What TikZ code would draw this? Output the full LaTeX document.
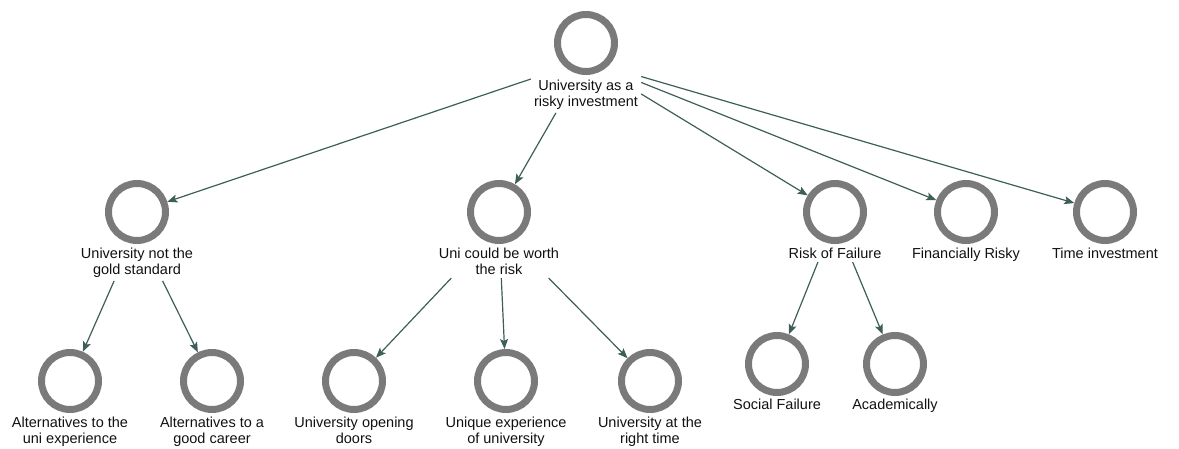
\documentclass[tikz,border=0pt]{standalone}
\usepackage{fontspec}
\setmainfont{Liberation Sans}
\usetikzlibrary{arrows.meta,fit}
\definecolor{ringgray}{HTML}{7A7A7A}
\definecolor{edgecol}{HTML}{3D5E59}
\definecolor{txtcol}{HTML}{111111}
\begin{document}
\begin{tikzpicture}[x=1pt,y=-1pt,
  ring/.style={circle, draw=ringgray, line width=7pt, minimum size=57pt, inner sep=0pt, outer sep=3.5pt},
  lbl/.style={anchor=north, align=center, inner sep=0pt, font=\fontsize{14.5}{16}\selectfont, text=txtcol},
  grp/.style={inner sep=3pt, outer sep=0pt},
  arr/.style={draw=edgecol, line width=1.2pt, -{Stealth[length=10pt,width=8pt,inset=2pt]}}]
\useasboundingbox (0,0) rectangle (1179,449);
% top
\node[ring] (Tc) at (586,43) {};
\node[lbl] (Tl) at (586,80) {University as a\\risky investment};
\node[grp, fit=(Tc)(Tl)] (T) {};
% middle level
\node[ring] (Ac) at (137,212) {};
\node[lbl] (Al) at (137,248) {University not the\\gold standard};
\node[grp, fit=(Ac)(Al)] (A) {};
\node[ring] (Bc) at (499,212) {};
\node[lbl] (Bl) at (499,248) {Uni could be worth\\the risk};
\node[grp, fit=(Bc)(Bl)] (B) {};
\node[ring] (Cc) at (835,212) {};
\node[lbl] (Cl) at (835,248) {Risk of Failure};
\node[grp, fit=(Cc)(Cl)] (C) {};
\node[ring] (Dc) at (966,212) {};
\node[lbl] (Dl) at (966,248) {Financially Risky};
\node[grp, fit=(Dc)(Dl)] (D) {};
\node[ring] (Ec) at (1105,212) {};
\node[lbl] (El) at (1105,248) {Time investment};
\node[grp, fit=(Ec)(El)] (E) {};
% leaves
\node[ring] (A1c) at (70,381) {};
\node[lbl] (A1l) at (70,417) {Alternatives to the\\uni experience};
\node[ring] (A2c) at (212,381) {};
\node[lbl] (A2l) at (212,417) {Alternatives to a\\good career};
\node[ring] (B1c) at (354,381) {};
\node[lbl] (B1l) at (354,417) {University opening\\doors};
\node[ring] (B2c) at (506,381) {};
\node[lbl] (B2l) at (506,417) {Unique experience\\of university};
\node[ring] (B3c) at (650,381) {};
\node[lbl] (B3l) at (650,417) {University at the\\right time};
\node[ring] (C1c) at (777,364) {};
\node[lbl] (C1l) at (777,399) {Social Failure};
\node[ring] (C2c) at (895,364) {};
\node[lbl] (C2l) at (895,399) {Academically};
% edges
\draw[arr] (T) -- (Ac);
\draw[arr] (T) -- (Bc);
\draw[arr] (T) -- (Cc);
\draw[arr] (T) -- (Dc);
\draw[arr] (T) -- (Ec);
\draw[arr] (A) -- (A1c);
\draw[arr] (A) -- (A2c);
\draw[arr] (B) -- (B1c);
\draw[arr] (B) -- (B2c);
\draw[arr] (B) -- (B3c);
\draw[arr] (C) -- (C1c);
\draw[arr] (C) -- (C2c);
\end{tikzpicture}
\end{document}
